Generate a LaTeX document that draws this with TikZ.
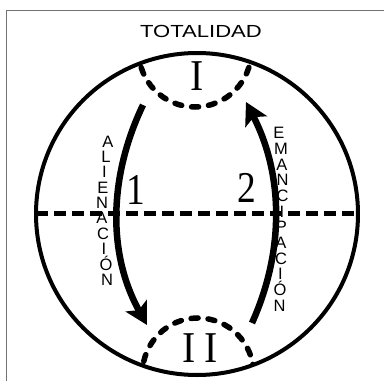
\documentclass[tikz,border=0pt]{standalone}
\usepackage{fontspec}
\setmainfont{Liberation Serif}
\setsansfont{Liberation Sans}
\usetikzlibrary{arrows.meta}
\begin{document}
\begin{tikzpicture}[x=1pt,y=-1pt,
  frame/.style={draw=black!55,line width=1.3pt},
  ring/.style={draw=black,line width=4pt},
  capline/.style={draw=black,line width=5.5pt,line cap=round,dash pattern=on 7pt off 10pt},
  midline/.style={draw=black,line width=5pt,dash pattern=on 12pt off 6pt},
  arr/.style={draw=black,line width=6.5pt,-{Stealth[length=22pt,width=24pt,inset=5pt]}},
  lett/.style={font=\sffamily\fontsize{16.5}{16.5}\selectfont,inner sep=0pt,text height=11.8pt,text depth=0pt,anchor=center},
  numl/.style={font=\rmfamily\fontsize{44}{44}\selectfont,inner sep=0pt,text height=29pt,text depth=0pt,anchor=center},
  title/.style={font=\sffamily\fontsize{17.5}{17.5}\selectfont,inner sep=0pt}]
\useasboundingbox (0,0) rectangle (384,381);
% frame
\coordinate (fbl) at (6.5,381);
\coordinate (ftl) at (6.5,10.5);
\coordinate (ftr) at (384,10.5);
\draw[frame] (fbl) -- (ftl) -- (ftr);
% main circle
\coordinate (C) at (197,214);
\begin{scope}
  \clip (C) circle (161);
  \draw[capline] (195,50.6) circle (56.4);
  \draw[capline] (198,373.6) circle (55.6);
\end{scope}
\coordinate (hl) at (36,213);
\coordinate (hr) at (358,213);
\draw[midline] (hl) -- (hr);
\draw[ring] (C) circle (161);
% title
\node[title] (tot) at (201,31) {\scalebox{1.26}[1]{TOTALIDAD}};
% roman numerals
\node[numl] (rI) at (197,76) {\scalebox{0.9}[1]{I}};
\node[numl] (rII) at (200,348) {\scalebox{0.9}[1]{I\hspace{9pt}I}};
\node[numl] (n1) at (136,190) {\scalebox{0.85}[1]{1}};
\node[numl] (n2) at (247,188) {\scalebox{0.85}[1]{2}};
% arrows
\coordinate (a1) at (143,105);
\coordinate (a2) at (147,325);
\coordinate (a3) at (252,323);
\coordinate (a4) at (246,102);
\draw[arr] (a1) .. controls (108,178) and (108,255) .. (a2);
\draw[arr] (a3) .. controls (284,252) and (284,176) .. (a4);
% vertical words
\foreach \l/\x/\y [count=\i] in {A/108/142,L/106/157,I/104.5/172,E/103/188,N/102/203,A/102/218,C/103/234,I/104/249,Ó/106/265,N/107/280}
  \node[lett] (al\i) at (\x,\y) {\l};
\foreach \l/\x/\y [count=\i] in {E/279/133,M/281/149,A/282/165,N/282.5/180,C/282.5/196,I/282/212,P/281.5/227,A/281/243,C/281/259,I/280.5/274,Ó/280/290,N/279.5/306}
  \node[lett] (em\i) at (\x,\y) {\l};
\end{tikzpicture}
\end{document}
